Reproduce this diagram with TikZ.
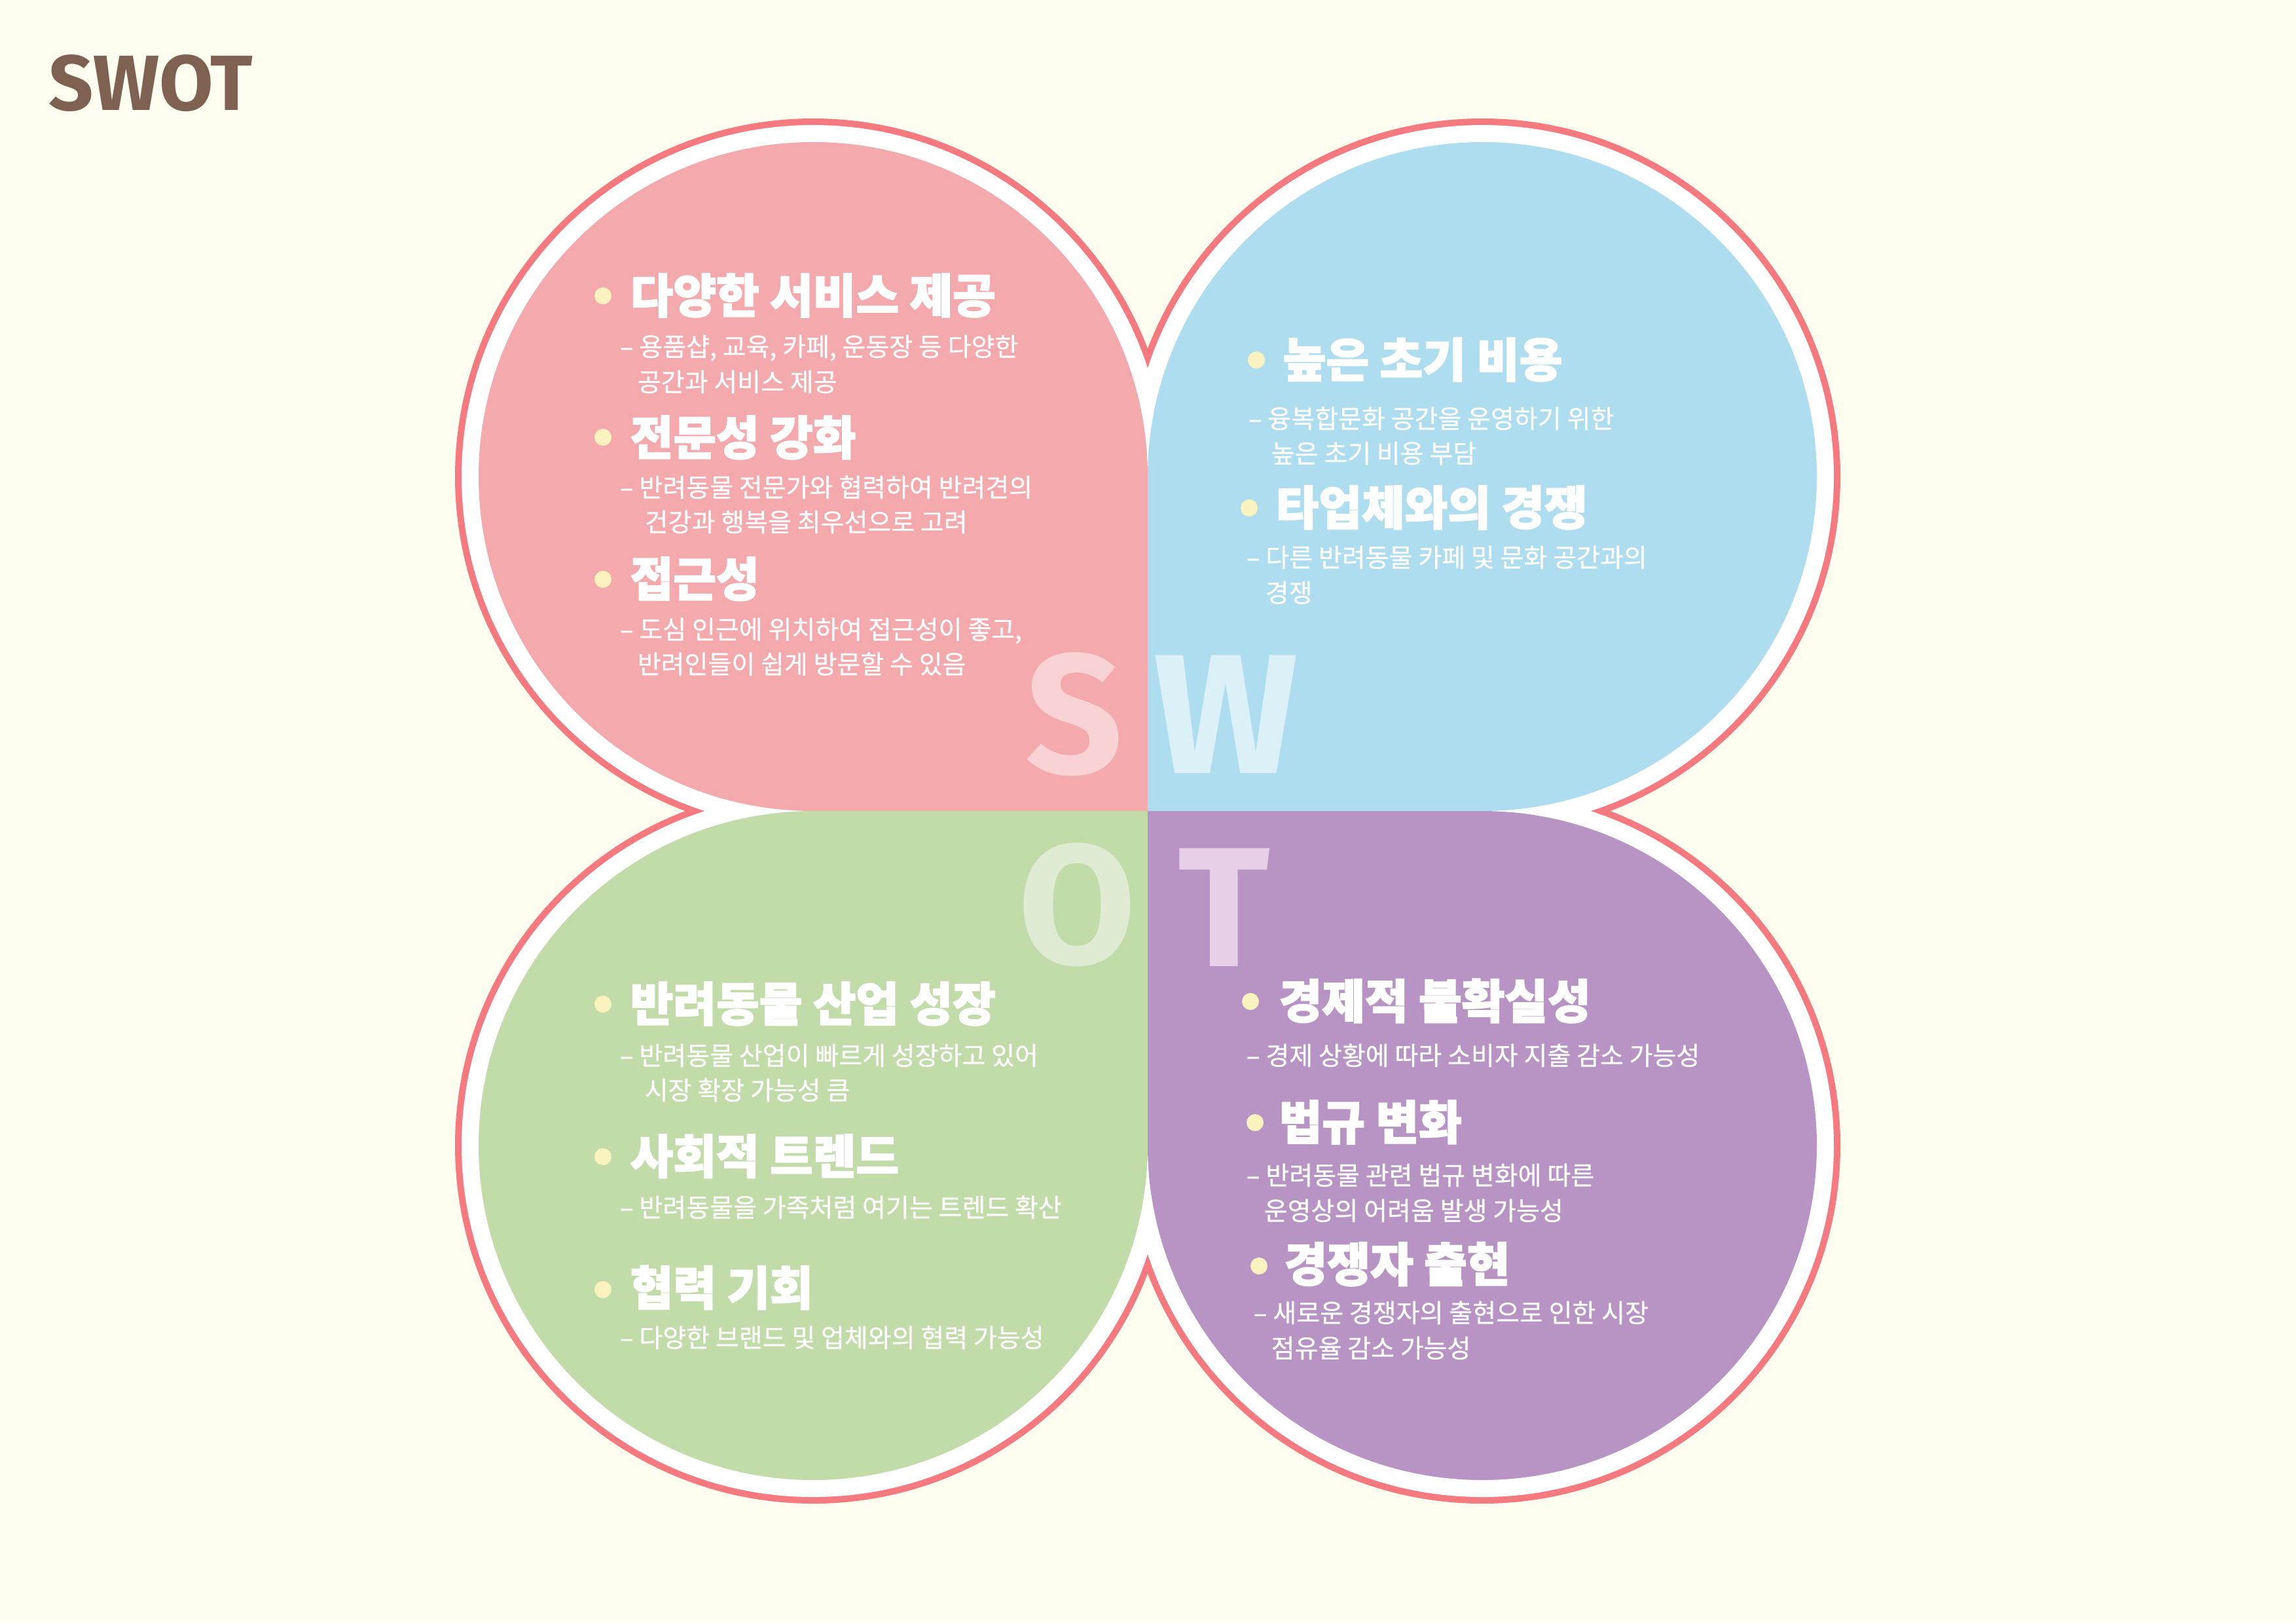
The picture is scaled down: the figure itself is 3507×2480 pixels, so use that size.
\documentclass[tikz,border=0pt]{standalone}
\usepackage{fontspec}
\newfontfamily\kr{Noto Sans CJK KR}[FakeBold=0.6]
\newfontfamily\krh{Noto Sans CJK KR}[BoldFeatures={FakeBold=2.5}]
\newfontfamily\latinb{Fira Sans}
\definecolor{bgc}{HTML}{FFFDF0}
\definecolor{pinkc}{HTML}{F4A9AD}
\definecolor{bluec}{HTML}{AEDDEF}
\definecolor{greenc}{HTML}{C1DBA9}
\definecolor{purplec}{HTML}{B794C4}
\definecolor{outlc}{HTML}{F47A80}
\definecolor{sc}{HTML}{F9D3D4}
\definecolor{wc}{HTML}{DCF0F8}
\definecolor{oc}{HTML}{DFECD3}
\definecolor{tc}{HTML}{E6CFE7}
\definecolor{brownc}{HTML}{7E6150}
\definecolor{dotc}{HTML}{FAF3BF}
\begin{document}
\begin{tikzpicture}[x=0.01cm,y=-0.01cm,
  head/.style={anchor=base west,inner sep=0,text=white,font=\krh\bfseries\fontsize{20.3}{25}\selectfont},
  body/.style={anchor=base west,inner sep=0,text=white,font=\kr\fontsize{11.1}{15}\selectfont},
  bdot/.style={circle,fill=dotc,inner sep=0,minimum size=0.26cm},
  big/.style={anchor=base,inner sep=0,font=\latinb\bfseries\fontsize{74}{80}\selectfont}]
\fill[bgc] (0,0) rectangle (3507,2480);
\useasboundingbox (0,0) rectangle (3507,2480);
\coordinate (cS) at (1242,728);
\coordinate (cW) at (2264,728);
\coordinate (cO) at (1242,1750);
\coordinate (cT) at (2264,1750);
\coordinate (mid) at (1753,1239);
% outline
\foreach \c in {cS,cW,cO,cT} \draw[outlc,line width=0.2cm] (\c) circle[radius=537];
\foreach \c in {cS,cW,cO,cT} \fill[white] (\c) circle[radius=537];
% quadrant fills
\fill[pinkc] (cS) circle[radius=511];
\fill[pinkc] (cS) rectangle (mid);
\fill[bluec] (cW) circle[radius=511];
\fill[bluec] (cW) rectangle (mid);
\fill[greenc] (cO) circle[radius=511];
\fill[greenc] (cO) rectangle (mid);
\fill[purplec] (cT) circle[radius=511];
\fill[purplec] (cT) rectangle (mid);
% big letters
\node[big,text=sc] (bigS) at (1641,1181) {S};
\node[big,text=wc] (bigW) at (1873,1181) {W};
\node[big,text=oc] (bigO) at (1645,1472) {O};
\node[big,text=tc] (bigT) at (1870,1476) {T};
% title
\node[anchor=base west,inner sep=0,text=brownc,font=\latinb\bfseries\fontsize{34}{38}\selectfont] (title) at (74,168) {SWOT};
% S quadrant
\node[bdot] (sd1) at (921,452) {};
\node[head] (sh1) at (962,478) {다양한 서비스 제공};
\node[body] (sb1) at (946,544) {– 용품샵, 교육, 카페, 운동장 등 다양한};
\node[body] (sb1b) at (973,598) {공간과 서비스 제공};
\node[bdot] (sd2) at (921,668) {};
\node[head] (sh2) at (962,695) {전문성 강화};
\node[body] (sb2) at (946,759) {– 반려동물 전문가와 협력하여 반려견의};
\node[body] (sb2b) at (984,812) {건강과 행복을 최우선으로 고려};
\node[bdot] (sd3) at (921,885) {};
\node[head] (sh3) at (962,911) {접근성};
\node[body] (sb3) at (946,976) {– 도심 인근에 위치하여 접근성이 좋고,};
\node[body] (sb3b) at (973,1029) {반려인들이 쉽게 방문할 수 있음};
% W quadrant
\node[bdot] (wd1) at (1919,550) {};
\node[head] (wh1) at (1959,576) {높은 초기 비용};
\node[body] (wb1) at (1906,654) {– 융복합문화 공간을 운영하기 위한};
\node[body] (wb1b) at (1941,707) {높은 초기 비용 부담};
\node[bdot] (wd2) at (1908,776) {};
\node[head] (wh2) at (1948,802) {타업체와의 경쟁};
\node[body] (wb2) at (1903,866) {– 다른 반려동물 카페 및 문화 공간과의};
\node[body] (wb2b) at (1932,920) {경쟁};
% O quadrant
\node[bdot] (od1) at (921,1534) {};
\node[head] (oh1) at (962,1560) {반려동물 산업 성장};
\node[body] (ob1) at (946,1627) {– 반려동물 산업이 빠르게 성장하고 있어};
\node[body] (ob1b) at (984,1680) {시장 확장 가능성 큼};
\node[bdot] (od2) at (921,1767) {};
\node[head] (oh2) at (962,1793) {사회적 트렌드};
\node[body] (ob2) at (946,1859) {– 반려동물을 가족처럼 여기는 트렌드 확산};
\node[bdot] (od3) at (921,1970) {};
\node[head] (oh3) at (962,1994) {협력 기회};
\node[body] (ob3) at (946,2058) {– 다양한 브랜드 및 업체와의 협력 가능성};
% T quadrant
\node[bdot] (td1) at (1910,1530) {};
\node[head] (th1) at (1953,1556) {경제적 불확실성};
\node[body] (tb1) at (1903,1627) {– 경제 상황에 따라 소비자 지출 감소 가능성};
\node[bdot] (td2) at (1917,1715) {};
\node[head] (th2) at (1953,1741) {법규 변화};
\node[body] (tb2) at (1903,1810) {– 반려동물 관련 법규 변화에 따른};
\node[body] (tb2b) at (1930,1864) {운영상의 어려움 발생 가능성};
\node[bdot] (td3) at (1923,1934) {};
\node[head] (th3) at (1961,1958) {경쟁자 출현};
\node[body] (tb3) at (1914,2020) {– 새로운 경쟁자의 출현으로 인한 시장};
\node[body] (tb3b) at (1941,2074) {점유율 감소 가능성};
\end{tikzpicture}
\end{document}
